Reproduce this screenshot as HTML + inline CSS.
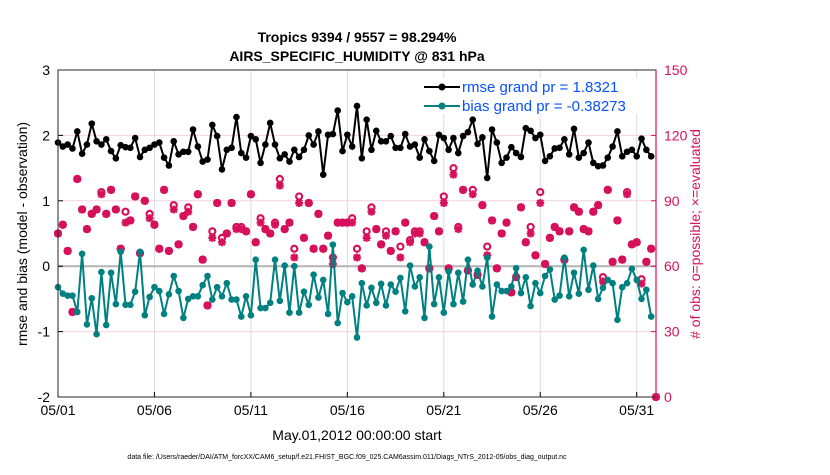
<!DOCTYPE html>
<html><head><meta charset="utf-8"><style>
body{margin:0;background:#fff;}
svg text{font-family:"Liberation Sans",sans-serif;}
</style></head><body>
<svg id="chart" width="830" height="470" viewBox="0 0 830 470" xmlns="http://www.w3.org/2000/svg">
<rect width="830" height="470" fill="#fff"/>
<g id="grid"></g>
<g id="marks"></g>
<g id="axes"></g>
<text x="357" y="42" text-anchor="middle" font-size="14" font-weight="bold">Tropics 9394 / 9557 = 98.294%</text>
<text x="357" y="61" text-anchor="middle" font-size="14" font-weight="bold">AIRS_SPECIFIC_HUMIDITY @ 831 hPa</text>
<text transform="translate(27,234) rotate(-90)" text-anchor="middle" font-size="14">rmse and bias (model - observation)</text>
<text transform="translate(700,234) rotate(-90)" text-anchor="middle" font-size="14" fill="#d6105a"># of obs: o=possible; ×=evaluated</text>
<text x="357" y="440" text-anchor="middle" font-size="14">May.01,2012 00:00:00 start</text>
<text x="347" y="459" text-anchor="middle" font-size="7">data file: /Users/raeder/DAI/ATM_forcXX/CAM6_setup/f.e21.FHIST_BGC.f09_025.CAM6assim.011/Diags_NTrS_2012-05/obs_diag_output.nc</text>
<g>
<rect x="418" y="78" width="226" height="36" fill="#fff"/>
<g>
<line x1="424" y1="87" x2="460" y2="87" stroke="#000" stroke-width="2"/><circle cx="442" cy="87" r="3.5" fill="#000"/>
<text x="462" y="92" font-size="15" fill="#0a50ff">rmse grand pr = 1.8321</text></g>
<g>
<line x1="424" y1="106" x2="460" y2="106" stroke="#008080" stroke-width="2"/><circle cx="442" cy="106" r="3.5" fill="#008080"/>
<text x="462" y="111" font-size="15" fill="#0a50ff">bias grand pr = -0.38273</text></g>
</g>
</svg>
<script>
const rmse=[1.89,1.83,1.86,1.80,2.06,1.72,1.86,2.18,1.91,1.86,1.94,1.76,1.65,1.85,1.82,1.81,1.96,1.67,1.78,1.81,1.86,
1.89,1.66,1.54,1.91,1.71,1.75,1.75,2.09,1.83,1.60,1.63,2.16,1.99,1.48,1.78,1.81,2.28,1.73,1.66,1.99,
1.94,1.58,1.86,2.19,1.86,1.65,1.71,1.60,1.78,1.67,1.78,2.00,1.86,2.06,1.40,2.01,2.02,2.38,1.76,2.01,
1.83,2.45,1.65,2.24,1.78,2.07,1.91,1.91,1.99,1.81,1.81,2.02,1.83,1.86,1.66,1.94,1.76,1.61,2.01,1.96,
1.78,1.96,1.73,1.99,2.05,2.24,1.87,1.97,1.35,2.09,1.89,1.58,1.66,1.82,1.73,1.67,2.11,2.07,1.96,2.01,
1.61,1.68,1.80,1.81,1.94,1.71,2.10,1.66,1.73,1.89,1.58,1.53,1.54,1.66,1.83,2.06,1.68,1.75,1.78,1.68,1.95,1.78,1.68];
const bias=[-0.32,-0.42,-0.45,-0.45,-0.70,0.19,-0.89,-0.49,-1.04,-0.09,-0.90,-0.10,-0.58,0.22,-0.59,-0.59,-0.39,0.22,-0.75,-0.47,-0.32,
-0.38,-0.73,-0.43,-0.15,-0.38,-0.79,-0.50,-0.46,-0.46,-0.29,-0.15,-0.51,-0.32,-0.46,-0.26,-0.51,-0.51,-0.77,-0.46,-0.75,
0.10,-0.64,-0.64,-0.56,0.10,-0.53,0.01,-0.71,0.00,-0.71,-0.39,-0.59,-0.13,-0.48,-0.21,-0.73,0.33,-0.87,-0.41,-0.55,
-0.46,-1.09,-0.26,-0.60,-0.33,-0.56,-0.27,-0.60,-0.28,-0.39,-0.18,-0.69,0.01,-0.31,-0.17,-0.79,0.30,-0.58,-0.17,-0.71,
-0.08,-0.58,-0.10,-0.54,0.10,-0.28,-0.07,-0.31,0.13,-0.77,-0.28,-0.38,-0.38,-0.31,-0.03,-0.41,-0.17,-0.61,-0.26,-0.41,
-0.15,-0.05,-0.51,-0.45,0.13,-0.46,-0.10,-0.42,0.25,-0.36,0.01,-0.50,-0.33,-0.21,-0.26,-0.82,-0.32,-0.26,-0.04,-0.21,-0.50,-0.36,-0.77];
const evaluated=[75,79,67,39,100,86,77,84,86,93,84,95,86,68,80,81,92,66,90,82,79,
68,95,67,86,70,83,85,78,93,63,42,73,89,71,75,89,77,77,76,93,
71,80,77,75,79,97,77,80,64,89,73,89,68,84,68,74,61,80,80,80,
80,64,59,73,85,77,70,74,67,76,64,80,71,75,75,71,59,83,76,89,
59,102,77,95,58,93,56,88,65,81,59,75,80,48,55,87,71,75,65,89,
61,73,78,76,63,76,87,85,77,76,85,88,53,95,62,81,63,93,70,71,52,62,68,0];
const possible=[75,79,67,39,100,86,77,84,86,94,84,95,86,68,85,81,92,66,90,84,79,
68,95,67,88,70,83,87,78,93,63,42,76,89,73,75,89,78,78,76,93,
71,82,77,75,80,100,77,80,68,92,73,89,68,84,68,74,64,80,80,80,
82,68,59,76,87,77,70,76,67,76,69,80,72,76,76,71,59,83,76,92,
59,105,78,95,58,95,56,88,69,81,59,75,80,48,55,87,71,78,65,94,
61,73,78,76,63,76,87,85,77,76,85,88,55,95,62,81,63,94,70,71,54,62,68,0];
const xTickLabels=["05/01","05/06","05/11","05/16","05/21","05/26","05/31"];
const xTickDays=[0,5,10,15,20,25,30];
const yLeftTicks=[-2,-1,0,1,2,3];
const yRightTicks=[0,30,60,90,120,150];

const NS="http://www.w3.org/2000/svg";
const L=58,R=656,T=70,B=397;
const DAY0=0,DAY1=31;
const xScale=d=>L+(d-DAY0)/(DAY1-DAY0)*(R-L);
const yL=v=>B-(v+2)/5*(B-T);
const yR=v=>B-v/150*(B-T);
const dayOf=i=>i*0.25;
function mk(tag,attrs,parent){const e=document.createElementNS(NS,tag);for(const k in attrs)e.setAttribute(k,attrs[k]);parent.appendChild(e);return e;}
const grid=document.getElementById('grid'),marks=document.getElementById('marks'),axes=document.getElementById('axes');
xTickDays.forEach((d,i)=>{
  const gl=mk('line',{x1:xScale(d),x2:xScale(d),y1:T,y2:B,stroke:'#dcdcdc','stroke-width':1},grid);
  
  
  const tk=mk('line',{x1:xScale(d),x2:xScale(d),y1:B,y2:B-5,stroke:'#000','stroke-width':1},axes);
  
  
  const t=mk('text',{x:xScale(d),y:B+18,'text-anchor':'middle','font-size':14},axes);
  t.textContent=xTickLabels[i];
  
  
});
yRightTicks.forEach(v=>{
  if(v>0&&v<150){const gl=mk('line',{x1:L,x2:R,y1:yR(v),y2:yR(v),stroke:'#f2d3de','stroke-width':1},grid);
  
  }
  const tk=mk('line',{x1:R,x2:R-5,y1:yR(v),y2:yR(v),stroke:'#d6105a'},axes);
  
  
  const t=mk('text',{x:R+8,y:yR(v)+5,'font-size':14,fill:'#d6105a'},axes);
  t.textContent=v;
  
  
});
yLeftTicks.forEach(v=>{
  const tk=mk('line',{x1:L,x2:L+5,y1:yL(v),y2:yL(v),stroke:'#000'},axes);
  
  
  const t=mk('text',{x:L-8,y:yL(v)+5,'text-anchor':'end','font-size':14},axes);
  t.textContent=v;
  
  
});
const zl=mk('line',{x1:L,x2:R,y1:yL(0),y2:yL(0),stroke:'#b4b4b4','stroke-width':2},grid);


evaluated.forEach((c,i)=>{
  const x=xScale(dayOf(i)),y=yR(c),yp=yR(possible[i]);
  const g=mk('g',{stroke:'#d6105a','stroke-width':2.2,fill:'none'},marks);
  
  
  mk('circle',{cx:x,cy:yp,r:3},g);
  mk('line',{x1:x-4,x2:x+4,y1:y,y2:y},g);
  mk('line',{x1:x,x2:x,y1:y-4,y2:y+4},g);
  mk('line',{x1:x-3,x2:x+3,y1:y-3,y2:y+3},g);
  mk('line',{x1:x-3,x2:x+3,y1:y+3,y2:y-3},g);
});
function series(arr,yf,color,name){
  const p=mk('polyline',{points:arr.map((v,i)=>xScale(dayOf(i))+','+yf(v)).join(' '),fill:'none',stroke:color,'stroke-width':2},marks);
  
  
  arr.forEach((v,i)=>{
    const c=mk('circle',{cx:xScale(dayOf(i)),cy:yf(v),r:3.3,fill:color},marks);
    
    
  });
}
series(bias,yL,'#008080','bias');
series(rmse,yL,'#000','rmse');
const box=mk('rect',{x:L,y:T,width:R-L,height:B-T,fill:'none',stroke:'#262626','stroke-width':1},axes);


const ra=mk('line',{x1:R,x2:R,y1:T,y2:B,stroke:'#d6105a','stroke-width':1.2},axes);


</script>
</body></html>
